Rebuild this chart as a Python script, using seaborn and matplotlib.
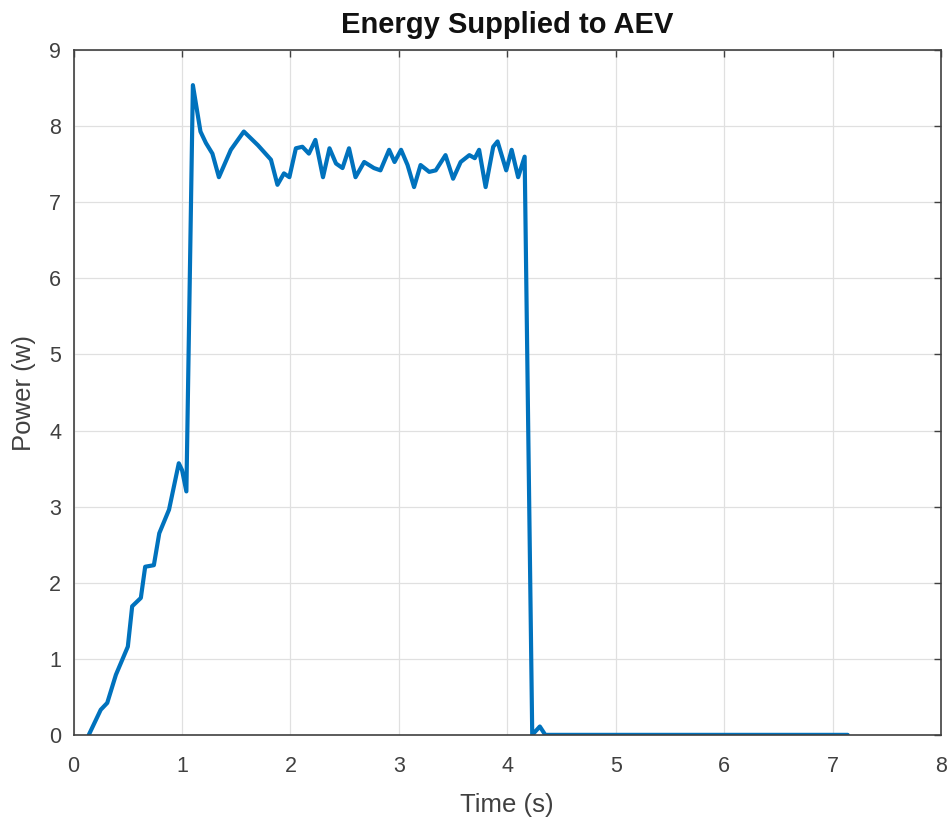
import numpy as np
import pandas as pd
import matplotlib
matplotlib.use("Agg")
import matplotlib.pyplot as plt
import seaborn as sns

# --- data ---
time_s = [0.14, 0.25, 0.31, 0.39, 0.50, 0.54, 0.62, 0.66, 0.74, 0.79, 0.88, 0.97, 1.00, 1.04,
          1.10, 1.17, 1.22, 1.28, 1.34, 1.45, 1.57, 1.70, 1.82, 1.88, 1.94, 1.99,
          2.05, 2.11, 2.17, 2.23, 2.30, 2.36, 2.42, 2.48, 2.54, 2.60, 2.68, 2.77, 2.83,
          2.91, 2.96, 3.02, 3.08, 3.14, 3.20, 3.28, 3.34, 3.43, 3.50, 3.57, 3.65, 3.70,
          3.74, 3.80, 3.87, 3.91, 3.99, 4.04, 4.10, 4.16,
          4.23, 4.30, 4.35, 5.0, 6.0, 7.14]
power_w = [0.0, 0.33, 0.42, 0.79, 1.16, 1.69, 1.80, 2.21, 2.23, 2.65, 2.96, 3.57, 3.48, 3.20,
           8.54, 7.93, 7.78, 7.64, 7.33, 7.69, 7.93, 7.75, 7.56, 7.23, 7.38, 7.33,
           7.71, 7.73, 7.64, 7.82, 7.33, 7.71, 7.51, 7.45, 7.71, 7.33, 7.53, 7.45, 7.42,
           7.69, 7.53, 7.69, 7.49, 7.20, 7.49, 7.40, 7.42, 7.62, 7.31, 7.53, 7.62, 7.58,
           7.69, 7.20, 7.73, 7.80, 7.42, 7.69, 7.33, 7.60,
           0.0, 0.11, 0.0, 0.0, 0.0, 0.0]

df = pd.DataFrame({"Time (s)": time_s, "Power (w)": power_w})

sns.set_theme(style="white")
plt.rcParams["font.family"] = ["Liberation Sans", "DejaVu Sans"]

fig = plt.figure(figsize=(9.5, 8.22), dpi=100)
ax = fig.add_axes([0.0775, 0.106, 0.913, 0.833])

sns.lineplot(data=df, x="Time (s)", y="Power (w)", ax=ax, color="#0072BD",
             linewidth=3.0, sort=False, estimator=None)

ax.set_xlim(0, 8)
ax.set_ylim(0, 9)
ax.set_xticks(range(0, 9))
ax.set_yticks(range(0, 10))
ax.grid(True, color="#e0e0e0", linewidth=0.9)
ax.set_axisbelow(True)
for sp in ax.spines.values():
    sp.set_color("#404040")
    sp.set_linewidth(1.2)
ax.tick_params(direction="in", length=5, width=1, colors="#404040",
               labelsize=15.5, labelcolor="#404040", top=True, right=True,
               labeltop=False, labelright=False)
ax.tick_params(axis="x", pad=15)
ax.tick_params(axis="y", pad=9)
ax.set_xlabel("Time (s)", fontsize=18.5, color="#404040", labelpad=12)
ax.set_ylabel("Power (w)", fontsize=18.5, color="#404040", labelpad=9)
ax.set_title("Energy Supplied to AEV", fontsize=21, fontweight="bold", color="#111111", pad=12)

fig.savefig("out.png", dpi=100)
